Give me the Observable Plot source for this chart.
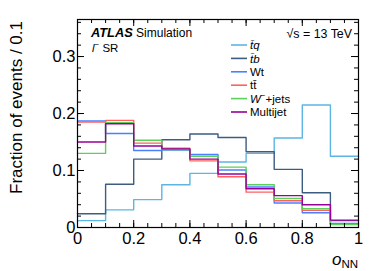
<!DOCTYPE html>
<html>
<head>
<meta charset="utf-8">
<script src="https://cdn.jsdelivr.net/npm/d3@7"></script>
<script src="https://cdn.jsdelivr.net/npm/@observablehq/plot@0.6"></script>
<style>
  html, body { margin: 0; padding: 0; background: white; }
  #chart { width: 378px; height: 271px; }
</style>
</head>
<body>
<div id="chart"></div>
<script>
// Bin edges of o_NN
const edges = [0, 0.1, 0.2, 0.3, 0.4, 0.5, 0.6, 0.7, 0.8, 0.9, 1.0];
// Normalised fractions per bin
const tbarq    = [0.012, 0.031, 0.049, 0.075, 0.095, 0.115, 0.130, 0.157, 0.215, 0.125];
const tbarb    = [0.024, 0.076, 0.120, 0.154, 0.164, 0.158, 0.133, 0.102, 0.061, 0.012];
const wt       = [0.187, 0.165, 0.135, 0.136, 0.128, 0.101, 0.071, 0.043, 0.026, 0.007];
const ttbar    = [0.185, 0.188, 0.148, 0.139, 0.117, 0.089, 0.062, 0.047, 0.030, 0.006];
const wjets    = [0.130, 0.184, 0.153, 0.137, 0.125, 0.106, 0.075, 0.051, 0.033, 0.005];
const multijet = [0.150, 0.182, 0.143, 0.138, 0.120, 0.094, 0.068, 0.056, 0.040, 0.013];

const seriesNames = ["tbarq", "tbarb", "Wt", "ttbar", "Wjets", "Multijet"];
const seriesValues = [tbarq, tbarb, wt, ttbar, wjets, multijet];
const seriesColors = ["#5cb5e3", "#3c5c80", "#4a80ff", "#ff6060", "#5cd05c", "#990099"];

const xMajor = [0, 0.2, 0.4, 0.6, 0.8, 1];
const xMinor = d3.range(0, 1.0001, 0.05).map(v => +v.toFixed(2));
const yMajor = [0, 0.1, 0.2, 0.3];
const yMinor = d3.range(0, 0.3601, 0.02).map(v => +v.toFixed(2));

// Step-outline points for each histogram
const rows = [];
seriesNames.forEach((name, s) => {
  seriesValues[s].forEach((v, i) => {
    rows.push({series: name, x: edges[i], y: v});
    rows.push({series: name, x: edges[i + 1], y: v});
  });
});

const W = 378, H = 271, mL = 77, mR = 20, mT = 19, mB = 44;
const innerH = H - mT - mB, innerW = W - mL - mR;
const majorLen = 7, minorLen = 4;

const plot = Plot.plot({
  width: W, height: H,
  marginLeft: mL, marginRight: mR, marginTop: mT, marginBottom: mB,
  style: {fontFamily: "'Liberation Sans', Arial, sans-serif", background: "white", color: "black"},
  x: {domain: [0, 1]},
  y: {domain: [0, 0.365]},
  color: {domain: seriesNames, range: seriesColors},
  marks: [
    Plot.line(rows, {x: "x", y: "y", z: "series", stroke: "series", strokeWidth: 1.4}),
    // inward ticks: bottom & top
    Plot.tickX(xMajor, {x: d => d, insetTop: innerH - majorLen, stroke: "black"}),
    Plot.tickX(xMajor, {x: d => d, insetBottom: innerH - majorLen, stroke: "black"}),
    Plot.tickX(xMinor, {x: d => d, insetTop: innerH - minorLen, stroke: "black"}),
    Plot.tickX(xMinor, {x: d => d, insetBottom: innerH - minorLen, stroke: "black"}),
    // inward ticks: left & right
    Plot.tickY(yMajor, {y: d => d, insetRight: innerW - majorLen, stroke: "black"}),
    Plot.tickY(yMajor, {y: d => d, insetLeft: innerW - majorLen, stroke: "black"}),
    Plot.tickY(yMinor, {y: d => d, insetRight: innerW - minorLen, stroke: "black"}),
    Plot.tickY(yMinor, {y: d => d, insetLeft: innerW - minorLen, stroke: "black"}),
    Plot.frame({stroke: "black", strokeWidth: 1.2}),
    Plot.axisX({ticks: xMajor, tickSize: 0, tickPadding: 5, fontSize: 16.5,
      tickFormat: d => d === 0 ? "0" : d === 1 ? "1" : d3.format(".1f")(d), label: null}),
    Plot.axisY({ticks: yMajor, tickSize: 0, tickPadding: 2, fontSize: 16.5,
      tickFormat: d => d === 0 ? "0" : d3.format(".1f")(d), label: null})
  ]
});

document.getElementById("chart").appendChild(plot);

// Annotations and legend
const svg = d3.select(plot);
const font = "'Liberation Sans', Arial, sans-serif";
const g = svg.append("g").attr("font-family", font).attr("fill", "black").attr("text-anchor", "start");

// Y title
g.append("text")
  .attr("transform", `translate(22,21) rotate(-90)`)
  .attr("text-anchor", "end")
  .attr("font-size", 17)
  .text("Fraction of events / 0.1");

// X title
const xt = g.append("text").attr("x", 358).attr("y", 265).attr("text-anchor", "end");
xt.append("tspan").attr("font-style", "italic").attr("font-size", 17).text("o");
xt.append("tspan").attr("font-size", 11.5).attr("dy", 3).text("NN");

// ATLAS Simulation
const at = g.append("text").attr("x", 91).attr("y", 37).attr("text-anchor", "start");
at.append("tspan").attr("font-weight", "bold").attr("font-style", "italic").attr("font-size", 12.8).text("ATLAS");
at.append("tspan").attr("font-size", 12).text(" Simulation");

// l- SR
const sr = g.append("text").attr("x", 92).attr("y", 52).attr("font-size", 11.5).attr("text-anchor", "start");
sr.append("tspan").attr("font-style", "italic").text("l");
sr.append("tspan").attr("font-size", 8).attr("dy", -5).text("−");
sr.append("tspan").attr("dy", 5).text(" SR");

// sqrt(s)
g.append("text").attr("x", 352).attr("y", 38).attr("text-anchor", "end")
  .attr("font-size", 12.4).text("√s = 13 TeV");

// Legend
const legendLabels = [
  [{t: "t̄q", i: true}],
  [{t: "t̄b", i: true}],
  [{t: "Wt"}],
  [{t: "tt̄"}],
  [{t: "W", i: true}, {t: "−", sup: true}, {t: "+jets"}],
  [{t: "Multijet"}]
];
legendLabels.forEach((parts, k) => {
  const yc = 45 + k * 13.4;
  g.append("line").attr("x1", 231).attr("x2", 247).attr("y1", yc).attr("y2", yc)
    .attr("stroke", seriesColors[k]).attr("stroke-width", 1.6);
  const t = g.append("text").attr("x", 250).attr("y", yc + 4.2).attr("font-size", 11.5)
    .attr("text-anchor", "start");
  parts.forEach(p => {
    const ts = t.append("tspan").text(p.t);
    if (p.i) ts.attr("font-style", "italic");
    if (p.sup) { ts.attr("font-size", 8).attr("dy", -5); }
    else if (p.t === "+jets") ts.attr("dy", 5);
  });
});
</script>
</body>
</html>
